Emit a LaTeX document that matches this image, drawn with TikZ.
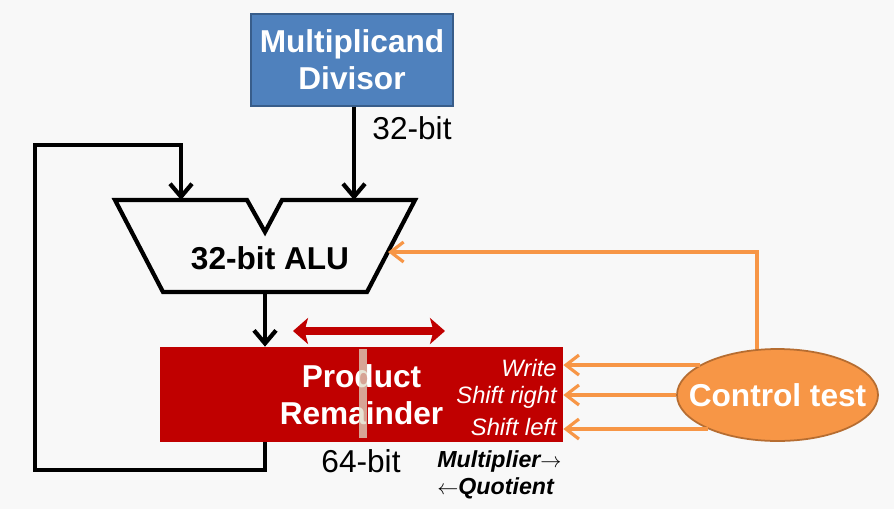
\documentclass[tikz,border=0pt]{standalone}
\usepackage{fontspec}
\setmainfont{Liberation Sans}
\usetikzlibrary{positioning, calc, arrows.meta, shapes.geometric}
\definecolor{xblue}{HTML}{4F81BD}
\definecolor{xblueline}{HTML}{385D8A}
\definecolor{xred}{HTML}{C00000}
\definecolor{xorange}{HTML}{F79646}
\definecolor{xorangeline}{HTML}{B66D31}
\definecolor{xstripe}{HTML}{E0DCC8}
\definecolor{xback}{HTML}{F8F8F8}
\tikzset{
	arrow/.style={line width=2.4pt, -{Straight Barb[length=2.6mm,width=4.4mm]}},
	ctrlarrow/.style={xorange, line width=1.8pt, -{Straight Barb[length=2.6mm,width=4mm]}},
	shiftarrow/.style={xred, line width=4pt, {Stealth[length=3mm,width=5.2mm,inset=0.7mm]}-{Stealth[length=3mm,width=5.2mm,inset=0.7mm]}},
	big/.style={font=\fontsize{18}{21}\selectfont},
	bigbold/.style={font=\fontsize{18}{21}\selectfont\bfseries},
	small/.style={font=\fontsize{13.5}{16}\selectfont\itshape},
	smallbold/.style={font=\fontsize{13.2}{16}\selectfont\bfseries\itshape},
}

\begin{document}
\begin{tikzpicture}
	\fill[xback] (0,0) rectangle (17.88,10.18);

	% registers
	\node[draw=xblueline, fill=xblue, line width=0.8pt, minimum width=4.04cm, minimum height=1.84cm,
		align=center, text=white, bigbold] (mcand) at (7.04,8.98) {Multiplicand\\Divisor};
	\node[big] (w32) at (8.24,7.62) {32-bit};

	\node[fill=xred, minimum width=8.06cm, minimum height=1.90cm, align=center,
		text=white, bigbold] (prod) at (7.23,2.29) {Product\\Remainder};
	\fill[xstripe, fill opacity=0.75] (7.18,1.42) rectangle (7.34,3.20);
	\node[small, text=white, anchor=east, inner sep=0pt] (wr) at (11.14,2.82) {Write};
	\node[small, text=white, anchor=east, inner sep=0pt] (shr) at (11.14,2.24) {Shift right};
	\node[small, text=white, anchor=east, inner sep=0pt] (shl) at (11.14,1.64) {Shift left};
	\node[big] (w64) at (7.22,0.96) {64-bit};
	\node[smallbold, anchor=west, inner sep=0pt] (mul) at (8.74,0.96) {Multiplier$\rightarrow$};
	\node[smallbold, anchor=west, inner sep=0pt] (quo) at (8.74,0.42) {$\leftarrow$Quotient};

	% ALU
	\draw[line width=2.4pt, line join=miter] (2.30,6.18) -- (4.94,6.18) -- (5.30,5.54) -- (5.64,6.18)
		-- (8.30,6.18) -- (7.34,4.34) -- (3.26,4.34) -- cycle;
	\node[bigbold] (alu) at (5.40,5.02) {32-bit ALU};
	\coordinate (aluA) at (3.62,6.18);
	\coordinate (aluB) at (7.08,6.18);
	\coordinate (aluC) at (7.76,5.14);
	\coordinate (aluO) at (5.30,4.34);

	% control
	\node[ellipse, fill=xorange, draw=xorangeline, line width=1pt, minimum width=4.02cm, minimum height=1.84cm,
		inner sep=0pt, label={[text=white, bigbold]center:Control test}] (ctrl) at (15.55,2.28) {};

	\coordinate (fbl) at (0.70,0.78);
	\coordinate (fbt) at (0.70,7.28);
	\coordinate (dl) at (5.86,3.56);
	\coordinate (dr) at (8.90,3.56);

	\draw[arrow] (mcand.south -| aluB) -- (aluB);
	\draw[arrow] (aluO) -- (aluO |- prod.north);
	\draw[arrow] (prod.south -| aluO) |- (fbl) -- (fbt) -| (aluA);
	\draw[shiftarrow] (dl) -- (dr);

	\draw[ctrlarrow] (ctrl.159.6) -- (ctrl.159.6 -| prod.east);
	\draw[ctrlarrow] (ctrl.west) -- (ctrl.west -| prod.east);
	\draw[ctrlarrow] (ctrl.206.6) -- (ctrl.206.6 -| prod.east);
	\draw[ctrlarrow] (ctrl.114.5) |- (aluC);
\end{tikzpicture}
\end{document}
